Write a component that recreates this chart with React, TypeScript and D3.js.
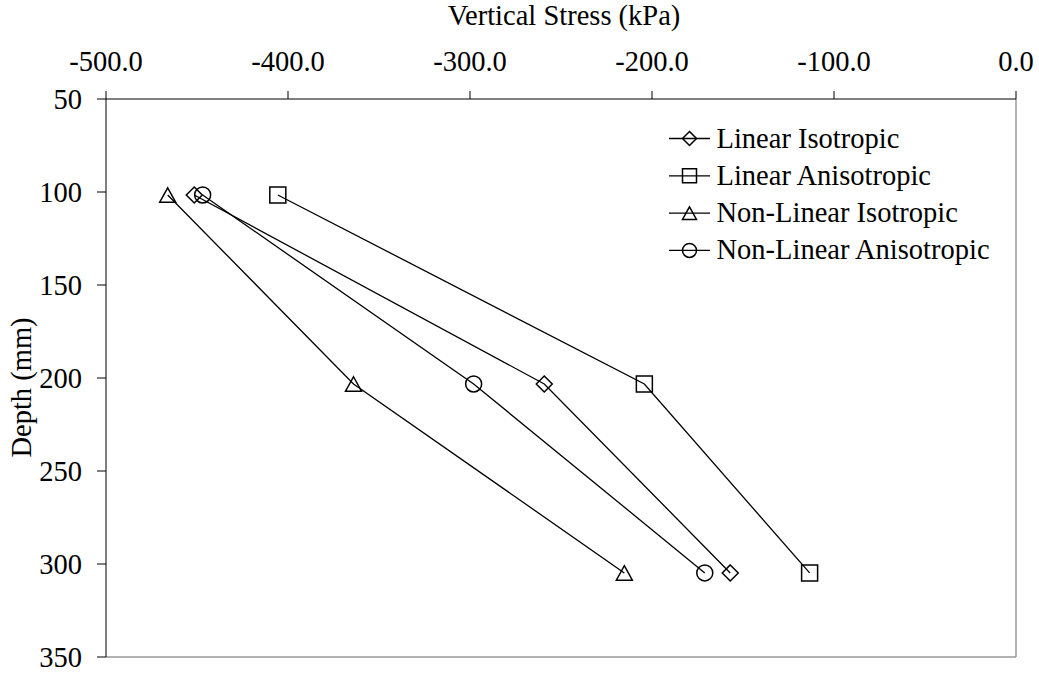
import React from "react";
import * as d3 from "d3";

// Depth of each measurement point (mm)
const depths = [101.6, 203.2, 304.8];

// Vertical stress (kPa) at each depth, per model
const linearIsotropic = [-451.5, -259.2, -157.0];
const linearAnisotropic = [-405.6, -204.2, -113.4];
const nonLinearIsotropic = [-466.1, -364.0, -215.2];
const nonLinearAnisotropic = [-446.9, -298.0, -171.0];

const seriesNames = [
  "Linear Isotropic",
  "Linear Anisotropic",
  "Non-Linear Isotropic",
  "Non-Linear Anisotropic",
];
const seriesShapes = ["diamond", "square", "triangle", "circle"];
const seriesValues = [linearIsotropic, linearAnisotropic, nonLinearIsotropic, nonLinearAnisotropic];

const xTicks = [-500, -400, -300, -200, -100, 0];
const yTicks = [50, 100, 150, 200, 250, 300, 350];

const W = 1039;
const H = 674;
const left = 106;
const right = 1016;
const top = 99;
const bottom = 657;
const FONT = "Liberation Serif, Times New Roman, serif";
const FS = 28.5;

function markerPath(shape: string, size: number): string {
  const r = size / 2;
  if (shape === "diamond") return `M0,${-r}L${r},0L0,${r}L${-r},0Z`;
  if (shape === "square") return `M${-r},${-r}H${r}V${r}H${-r}Z`;
  if (shape === "triangle") {
    const h = size * 0.9;
    return `M0,${-h / 2}L${r},${h / 2}L${-r},${h / 2}Z`;
  }
  return `M${r},0A${r},${r} 0 1,1 ${-r},0A${r},${r} 0 1,1 ${r},0Z`;
}

export default function App() {
  const x = d3.scaleLinear().domain([-500, 0]).range([left, right]);
  const y = d3.scaleLinear().domain([50, 350]).range([top, bottom]);
  const line = d3
    .line<[number, number]>()
    .x((d) => x(d[0]))
    .y((d) => y(d[1]));

  const legendX = 669;
  const legendY0 = 138.5;
  const legendDy = 37.3;
  const textStyle = { fontFamily: FONT, fontSize: FS };

  return (
    <svg width={W} height={H} style={{ position: "absolute", left: 0, top: 0, background: "#fff" }}>
      <rect width={W} height={H} fill="#fff" />
      {/* frame: right and bottom borders in grey */}
      <line x1={right} x2={right} y1={top} y2={bottom} stroke="#999" strokeWidth={1.5} />
      <line x1={left} x2={right} y1={bottom} y2={bottom} stroke="#999" strokeWidth={1.5} />

      {/* top x axis */}
      <line x1={left} x2={right} y1={top} y2={top} stroke="#000" strokeWidth={1} />
      {xTicks.map((t) => (
        <g key={"xt" + t}>
          <line x1={x(t)} x2={x(t)} y1={top} y2={top - 8} stroke="#000" strokeWidth={1} />
          <text x={x(t)} y={71} textAnchor="middle" style={textStyle} fill="#000">
            {d3.format(".1f")(t).replace("−", "-")}
          </text>
        </g>
      ))}
      <text x={(left + right) / 2 + 3} y={25} textAnchor="middle" style={textStyle} fill="#000">
        Vertical Stress (kPa)
      </text>

      {/* left y axis */}
      <line x1={left} x2={left} y1={top} y2={bottom} stroke="#000" strokeWidth={1} />
      {yTicks.map((t) => (
        <g key={"yt" + t}>
          <line x1={left - 9} x2={left} y1={y(t)} y2={y(t)} stroke="#000" strokeWidth={1} />
          <text x={82} y={y(t) + 9.5} textAnchor="end" style={textStyle} fill="#000">
            {t}
          </text>
        </g>
      ))}
      <text
        transform={`translate(31,387.5) rotate(-90)`}
        textAnchor="middle"
        style={textStyle}
        fill="#000"
      >
        Depth (mm)
      </text>

      {/* series */}
      {seriesValues.map((vals, i) => {
        const pts = vals.map((v, j) => [v, depths[j]] as [number, number]);
        return (
          <g key={"s" + i}>
            <path d={line(pts) || ""} fill="none" stroke="#000" strokeWidth={1.3} />
            {pts.map((p, j) => (
              <path
                key={j}
                d={markerPath(seriesShapes[i], 16)}
                transform={`translate(${x(p[0])},${y(p[1])})`}
                fill="none"
                stroke="#000"
                strokeWidth={1.5}
              />
            ))}
          </g>
        );
      })}

      {/* legend */}
      {seriesNames.map((name, i) => {
        const ly = legendY0 + i * legendDy;
        return (
          <g key={"lg" + i}>
            <line x1={legendX} x2={legendX + 41} y1={ly} y2={ly} stroke="#000" strokeWidth={1.3} />
            <path
              d={markerPath(seriesShapes[i], 14)}
              transform={`translate(${legendX + 20.5},${ly})`}
              fill="none"
              stroke="#000"
              strokeWidth={1.5}
            />
            <text x={716.5} y={ly + 9} style={textStyle} fill="#000">
              {name}
            </text>
          </g>
        );
      })}
    </svg>
  );
}
